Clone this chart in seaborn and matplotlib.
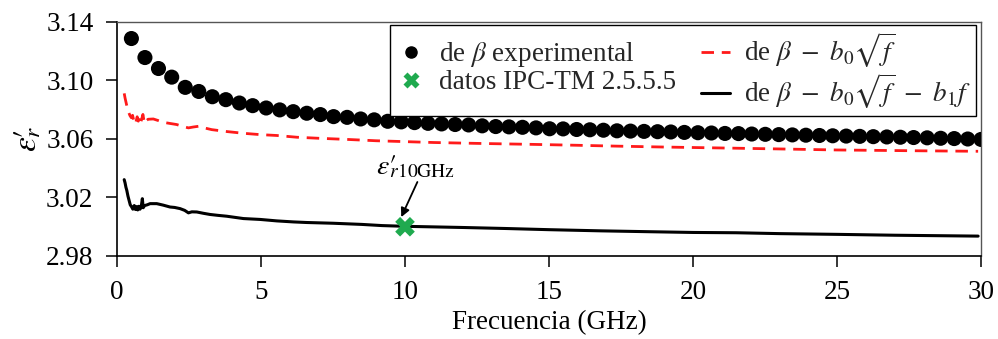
import matplotlib
matplotlib.use("Agg")
import matplotlib.pyplot as plt
from matplotlib.lines import Line2D
import seaborn as sns
import numpy as np
import pandas as pd

# ---------------- data ----------------
dot_f = [0.50, 0.97, 1.44, 1.90, 2.37, 2.84, 3.31, 3.78, 4.25, 4.71,
         5.18, 5.65, 6.12, 6.59, 7.06, 7.52, 7.99, 8.46, 8.93, 9.40,
         9.87, 10.33, 10.80, 11.27, 11.74, 12.21, 12.68, 13.15, 13.61, 14.08,
         14.55, 15.02, 15.49, 15.96, 16.42, 16.89, 17.36, 17.83, 18.30, 18.77,
         19.23, 19.70, 20.17, 20.64, 21.11, 21.58, 22.04, 22.51, 22.98, 23.45,
         23.92, 24.39, 24.85, 25.32, 25.79, 26.26, 26.73, 27.20, 27.66, 28.13,
         28.60, 29.07, 29.54, 30.00]
dot_v = [3.1287, 3.1157, 3.1082, 3.1023, 3.0953, 3.0925, 3.0889, 3.0869, 3.0846, 3.0828,
         3.0812, 3.0799, 3.0787, 3.0776, 3.0767, 3.0753, 3.0748, 3.0737, 3.0731, 3.0721,
         3.0717, 3.0712, 3.0707, 3.0703, 3.0699, 3.0696, 3.0690, 3.0685, 3.0683, 3.0680,
         3.0676, 3.0670, 3.0669, 3.0665, 3.0663, 3.0660, 3.0656, 3.0654, 3.0652, 3.0650,
         3.0648, 3.0645, 3.0643, 3.0641, 3.0638, 3.0637, 3.0634, 3.0632, 3.0630, 3.0628,
         3.0626, 3.0624, 3.0622, 3.0620, 3.0618, 3.0616, 3.0614, 3.0612, 3.0610, 3.0608,
         3.0605, 3.0603, 3.0600, 3.0597]

red_f = [0.25, 0.28, 0.32, 0.36, 0.40, 0.45, 0.50, 0.54, 0.58, 0.62,
         0.66, 0.70, 0.74, 0.78, 0.82, 0.86, 0.90, 0.94, 0.98, 1.02,
         1.08, 1.26, 1.45, 1.61, 1.85, 2.07, 2.30, 2.48, 2.65, 2.83,
         3.05, 3.29, 3.81, 4.39, 4.97, 5.55, 6.25, 7.00, 8.00, 9.00,
         10.0, 11.0, 12.5, 14.5, 16.0, 17.4, 19.0, 21.5, 23.0, 25.0,
         27.5, 29.9]
red_v = [3.0912, 3.0880, 3.0845, 3.0810, 3.0785, 3.0760, 3.0745, 3.0762, 3.0728, 3.0745,
         3.0718, 3.0752, 3.0722, 3.0748, 3.0712, 3.0738, 3.0768, 3.0722, 3.0742, 3.0726,
         3.0735, 3.0737, 3.0725, 3.0714, 3.0706, 3.0699, 3.0685, 3.0676, 3.0682, 3.0687,
         3.0675, 3.0664, 3.0651, 3.0639, 3.0630, 3.0624, 3.0612, 3.0605, 3.0597, 3.0588,
         3.0582, 3.0576, 3.0570, 3.0563, 3.0557, 3.0551, 3.0545, 3.0537, 3.0532, 3.0525,
         3.0520, 3.0516]

blk_f = [0.25, 0.28, 0.31, 0.34, 0.38, 0.42, 0.46, 0.51, 0.55, 0.60,
         0.64, 0.68, 0.72, 0.76, 0.80, 0.84, 0.88, 0.91, 0.96, 1.05,
         1.15, 1.38, 1.60, 1.84, 2.00, 2.19, 2.35, 2.48, 2.60, 2.77,
         3.00, 3.23, 3.50, 3.81, 4.10, 4.39, 4.97, 5.55, 6.13, 6.59,
         7.50, 8.50, 9.20, 10.0, 11.0, 12.0, 13.5, 15.0, 16.8, 18.5,
         20.0, 21.5, 23.0, 25.0, 27.0, 29.9]
blk_v = [3.0322, 3.0300, 3.0270, 3.0249, 3.0210, 3.0180, 3.0150, 3.0135, 3.0120, 3.0145,
         3.0118, 3.0138, 3.0115, 3.0140, 3.0120, 3.0135, 3.0192, 3.0130, 3.0145, 3.0150,
         3.0158, 3.0158, 3.0148, 3.0135, 3.0132, 3.0124, 3.0112, 3.0095, 3.0102, 3.0101,
         3.0092, 3.0084, 3.0078, 3.0072, 3.0064, 3.0056, 3.0050, 3.0040, 3.0033, 3.0029,
         3.0024, 3.0016, 3.0008, 3.0003, 2.9999, 2.9995, 2.9988, 2.9980, 2.9972, 2.9966,
         2.9961, 2.9959, 2.9953, 2.9948, 2.9942, 2.9936]

ipc_f = [10.0]
ipc_v = [3.000]

x_ticks = [0, 5, 10, 15, 20, 25, 30]
y_ticks = [2.98, 3.02, 3.06, 3.10, 3.14]

labels = [r"de $\beta$ experimental",
          "datos IPC-TM 2.5.5.5",
          r"de $\beta\ -\ b_0\sqrt{f}$",
          r"de $\beta\ -\ b_0\sqrt{f}\ -\ b_1 f$"]

# ---------------- style ----------------
sns.set_theme(style="white")
plt.rcParams["font.family"] = ["Liberation Serif", "DejaVu Serif"]
plt.rcParams["mathtext.fontset"] = "stix"

fig = plt.figure(figsize=(9.98, 3.39), dpi=100)
ax = fig.add_axes([117 / 998, 1 - 256 / 339, (981 - 117) / 998, (256 - 22) / 339])

green = "#1faa4f"
FS = 19.5

sns.lineplot(x=red_f, y=red_v, ax=ax, color="#ff1a1a", lw=2.0,
             linestyle=(0, (4.5, 2.8)), sort=False, estimator=None)
sns.lineplot(x=blk_f, y=blk_v, ax=ax, color="black", lw=2.2,
             sort=False, estimator=None)
sns.scatterplot(x=dot_f, y=dot_v, ax=ax, color="black", s=118,
                edgecolor="none", zorder=4)
sns.scatterplot(x=ipc_f, y=ipc_v, ax=ax, color=green, marker="X", s=200,
                edgecolor="none", zorder=5)

ax.set_xlim(0, 30)
ax.set_ylim(2.98, 3.14)
ax.set_xticks(x_ticks)
ax.set_yticks(y_ticks)
ax.set_xticklabels([str(t) for t in x_ticks])
ax.set_yticklabels([f"{t:.2f}" for t in y_ticks])
ax.tick_params(axis="both", labelsize=FS, colors="black", direction="out",
               length=8, width=1.1)
ax.tick_params(axis="y", pad=9)
ax.tick_params(axis="x", pad=9)
ax.xaxis.set_ticks_position("bottom")
ax.yaxis.set_ticks_position("left")

for side in ["left", "bottom"]:
    ax.spines[side].set_color("black")
    ax.spines[side].set_linewidth(1.2)
for side in ["top", "right"]:
    ax.spines[side].set_color("#555555")
    ax.spines[side].set_linewidth(1.0)

ax.set_xlabel("Frecuencia (GHz)", fontsize=FS, color="black", labelpad=4)
ax.set_ylabel("$\\varepsilon_{r}\\!\\!\\!\u2032$", fontsize=24, color="black", labelpad=2)

# annotation
ax.annotate("", xy=(9.87, 3.0066), xytext=(10.43, 3.0306),
            arrowprops=dict(arrowstyle="-|>", color="black", lw=1.3,
                            mutation_scale=13, shrinkA=0, shrinkB=0))
ax.text(10.35, 3.0405, "$\\varepsilon\u2032_{\\!\\!\\!r\\mathrm{10GHz}}$", fontsize=20,
        ha="center", va="center", color="black")

handles = [
    Line2D([], [], marker="o", color="black", ls="none", markersize=8),
    Line2D([], [], marker="X", color=green, ls="none", markersize=11, markeredgecolor="none"),
    Line2D([], [], color="#ff1a1a", lw=2.0, ls=(0, (4.5, 2.8))),
    Line2D([], [], color="black", lw=2.2),
]
leg = ax.legend(handles, labels, ncol=2, loc="upper right",
                bbox_to_anchor=(976 / 998, 1 - 25 / 339), bbox_transform=fig.transFigure,
                borderaxespad=0, frameon=True, fancybox=False, fontsize=FS,
                handlelength=1.1, handletextpad=0.5, columnspacing=0.9,
                labelspacing=0.05, borderpad=0.2, framealpha=1.0)
leg.get_frame().set_edgecolor("black")
leg.get_frame().set_linewidth(1.0)

fig.savefig("out.png", dpi=100)
